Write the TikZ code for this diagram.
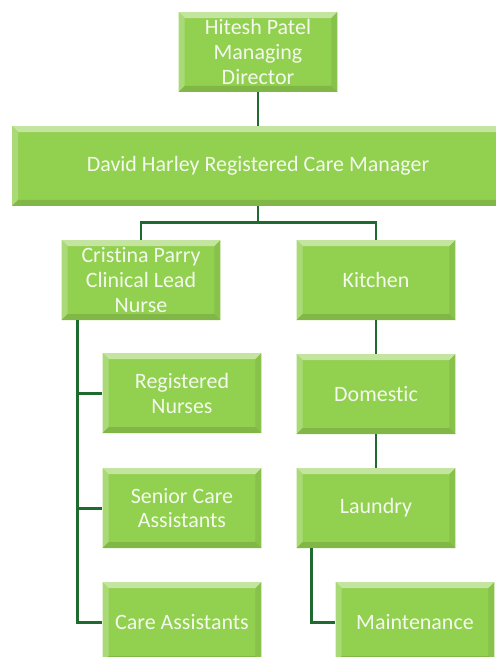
\documentclass[tikz,border=0pt]{standalone}
\usepackage{fontspec}
\setmainfont{Carlito}[Ligatures=NoCommon]
\usepackage{xcolor}

\definecolor{boxgreen}{HTML}{92D050}
\definecolor{boxtext}{HTML}{F4F9EE}
\definecolor{linkgreen}{HTML}{1F6B2F}

\tikzset{
  unit/.style={rectangle, fill=boxgreen, text=boxtext, inner sep=0pt,
    minimum width=3.18cm, minimum height=1.6cm, align=center,
    font=\fontsize{12.5}{14.2}\selectfont,
    path picture={
      \fill[boxgreen!55!white] (path picture bounding box.north west) -- (path picture bounding box.north east)
        -- ([shift={(-6,6)}]path picture bounding box.north east) -- ([shift={(6,6)}]path picture bounding box.north west) -- cycle;
      \fill[boxgreen!78!white] (path picture bounding box.north west) -- ([shift={(6,6)}]path picture bounding box.north west)
        -- ([shift={(6,-6)}]path picture bounding box.south west) -- (path picture bounding box.south west) -- cycle;
      \fill[boxgreen!93!black] (path picture bounding box.north east) -- (path picture bounding box.south east)
        -- ([shift={(-6,-6)}]path picture bounding box.south east) -- ([shift={(-6,6)}]path picture bounding box.north east) -- cycle;
      \fill[boxgreen!88!black] (path picture bounding box.south west) -- (path picture bounding box.south east)
        -- ([shift={(-6,-6)}]path picture bounding box.south east) -- ([shift={(6,-6)}]path picture bounding box.south west) -- cycle;
    }},
  link/.style={draw=linkgreen, line width=1.7pt}
}

\begin{document}
\begin{tikzpicture}[x=0.02cm, y=-0.02cm]
  \useasboundingbox (0,0) rectangle (496,657);
  \clip (0,0) rectangle (496,657);

  % Boxes
  \node[unit] (hitesh) at (258,52) {Hitesh Patel\\Managing\\Director};
  \node[unit, minimum width=9.84cm] (david) at (258,166) {David Harley Registered Care Manager};
  \node[unit] (cristina) at (141,280) {Cristina Parry\\Clinical Lead\\Nurse};
  \node[unit] (kitchen) at (376,280) {Kitchen};
  \node[unit] (nurses) at (182,393) {Registered\\Nurses};
  \node[unit] (domestic) at (376,394) {Domestic};
  \node[unit] (senior) at (182,508) {Senior Care\\Assistants};
  \node[unit] (laundry) at (376,508) {Laundry};
  \node[unit] (carers) at (182,622) {Care Assistants};
  \node[unit] (maintenance) at (415,622) {Maintenance};

  % Edges
  \draw[link] (hitesh.south) -- (david.north);
  \draw[link] (david.south) -- ++(0,16) coordinate (split);
  \draw[link] (split) -| (cristina.north);
  \draw[link] (split) -| (kitchen.north);
  \draw[link] ([xshift=0.32cm]cristina.south west) |- (nurses.west);
  \draw[link] ([xshift=0.32cm]cristina.south west) |- (senior.west);
  \draw[link] ([xshift=0.32cm]cristina.south west) |- (carers.west);
  \draw[link] (kitchen.south) -- (domestic.north);
  \draw[link] (domestic.south) -- (laundry.north);
  \draw[link] ([xshift=0.3cm]laundry.south west) |- (maintenance.west);

\end{tikzpicture}
\end{document}
